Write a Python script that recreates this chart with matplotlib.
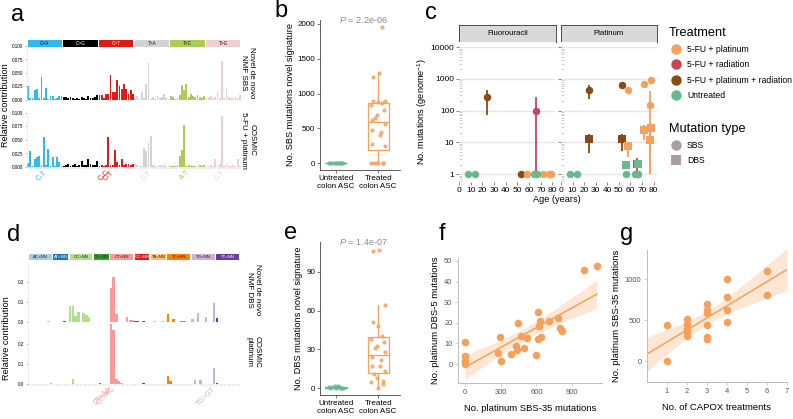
import numpy as np
import matplotlib
matplotlib.use("Agg")
import matplotlib.pyplot as plt
from matplotlib.lines import Line2D
from matplotlib.patches import Rectangle

plt.rcParams['font.family'] = ['Liberation Sans', 'DejaVu Sans']
plt.rcParams['mathtext.fontset'] = 'custom'
plt.rcParams['mathtext.rm'] = 'Liberation Sans'
plt.rcParams['mathtext.it'] = 'Liberation Sans:italic'
plt.rcParams['axes.linewidth'] = 0.6

# ---------------- data ----------------
# panel a: SBS 96-channel profiles (one list per mutation class)
sbs_types = ['C>A', 'C>G', 'C>T', 'T>A', 'T>C', 'T>G']
sbs_colors = ['#2EBAED', '#000000', '#DE1C14', '#D4D2D2', '#ADCC54', '#F0D0CE']
sbs_text_colors = ['#111111', 'white', 'white', '#111111', '#111111', '#111111']
novel_sbs = [
    [0.025, 0.004, 0.003, 0.019, 0.020, 0.003, 0.042, 0.004, 0.022, 0.002, 0.008, 0.008, 0.002, 0.003, 0.008, 0.007],
    [0.006, 0.005, 0.004, 0.006, 0.003, 0.002, 0.003, 0.002, 0.005, 0.003, 0.002, 0.007, 0.004, 0.003, 0.006, 0.010],
    [0.010, 0.010, 0.003, 0.012, 0.012, 0.046, 0.015, 0.015, 0.037, 0.026, 0.020, 0.030, 0.020, 0.012, 0.018, 0.012],
    [0.004, 0.008, 0.002, 0.015, 0.004, 0.030, 0.068, 0.002, 0.006, 0.002, 0.008, 0.004, 0.006, 0.012, 0.003, 0.002],
    [0.008, 0.006, 0.002, 0.004, 0.010, 0.028, 0.018, 0.030, 0.005, 0.012, 0.008, 0.006, 0.010, 0.005, 0.004, 0.008],
    [0.004, 0.006, 0.008, 0.002, 0.005, 0.015, 0.003, 0.072, 0.003, 0.020, 0.005, 0.004, 0.003, 0.006, 0.004, 0.010],
]
cosmic_sbs = [
    [0.008, 0.030, 0.002, 0.014, 0.018, 0.020, 0.003, 0.055, 0.003, 0.033, 0.002, 0.018, 0.002, 0.018, 0.010, 0.002],
    [0.002, 0.003, 0.005, 0.002, 0.004, 0.006, 0.002, 0.003, 0.012, 0.004, 0.004, 0.015, 0.006, 0.004, 0.003, 0.012],
    [0.002, 0.004, 0.001, 0.003, 0.055, 0.004, 0.004, 0.032, 0.010, 0.004, 0.015, 0.003, 0.005, 0.006, 0.004, 0.005],
    [0.005, 0.004, 0.002, 0.002, 0.035, 0.030, 0.044, 0.058, 0.003, 0.002, 0.002, 0.003, 0.002, 0.003, 0.002, 0.004],
    [0.001, 0.002, 0.002, 0.003, 0.020, 0.032, 0.078, 0.002, 0.003, 0.001, 0.002, 0.002, 0.001, 0.003, 0.002, 0.004],
    [0.002, 0.002, 0.003, 0.002, 0.015, 0.003, 0.005, 0.095, 0.002, 0.005, 0.002, 0.002, 0.003, 0.002, 0.015, 0.002],
]
sbs_mark_labels = ['C-T', 'C-C', 'C-T', 'C-T', 'A-T', 'C-T']
sbs_mark_bars = [8, 36, 38, 55, 72, 88]
sbs_mark_group = [0, 2, 2, 3, 4, 5]

# panel d: DBS 78-channel profiles
dbs_types = ['AC>NN', 'AT>NN', 'CC>NN', 'CG>NN', 'CT>NN', 'GC>NN', 'TA>NN', 'TC>NN', 'TG>NN', 'TT>NN']
dbs_colors = ['#A6CEE3', '#1F78B4', '#B2DF8A', '#33A02C', '#FB9A99', '#E31A1C', '#FDBF6F', '#FF7F00', '#CAB2D6', '#6A3D9A']
dbs_text_colors = ['#222222', 'white', '#222222', '#222222', '#222222', 'white', '#222222', '#222222', '#222222', 'white']
novel_dbs = [
    [0, 0, 0, 0, 0, 0, 0, 0.003, 0],
    [0, 0, 0, 0, 0.003, 0],
    [0.08, 0.078, 0.03, 0.05, 0, 0.045, 0.035, 0.025, 0],
    [0, 0, 0.002, 0, 0, 0],
    [0.17, 0.225, 0.04, 0, 0, 0.002, 0.025, 0.008, 0.008],
    [0.006, 0.003, 0.002, 0.004, 0, 0],
    [0, 0.003, 0, 0, 0.003, 0],
    [0.04, 0, 0.015, 0, 0, 0.003, 0.003, 0.002, 0],
    [0.015, 0, 0.045, 0, 0, 0.025, 0, 0, 0.095],
    [0.02, 0, 0, 0, 0, 0, 0, 0, 0],
]
cosmic_dbs = [
    [0, 0, 0, 0, 0, 0, 0, 0, 0.006],
    [0, 0, 0, 0, 0, 0],
    [0, 0.025, 0, 0, 0, 0, 0, 0.002, 0],
    [0, 0, 0.006, 0, 0, 0],
    [0.35, 0.27, 0.025, 0.015, 0.006, 0.002, 0.001, 0.001, 0.001],
    [0, 0, 0, 0.004, 0, 0],
    [0, 0, 0, 0, 0, 0],
    [0.04, 0.015, 0, 0, 0, 0, 0, 0, 0],
    [0, 0.018, 0, 0.018, 0, 0, 0, 0, 0.08],
    [0.004, 0, 0, 0, 0, 0, 0, 0, 0],
]
dbs_mark_labels = ['CT>AA', 'CT>AC', 'TG>GT']
dbs_mark_bars = [30, 31, 68]
dbs_mark_group = [4, 4, 8]

# panels b / e: mutations attributed to the novel signatures
untreated_sbs = [0, 0, 0, 0, 0, 0, 0, 0, 0, 0]
treated_sbs = [0, 0, 0, 0, 0, 0, 250, 275, 400, 450, 480, 560, 650, 700, 760, 830,
               860, 880, 890, 900, 1240, 1300, 1960, 620]
untreated_dbs = [0, 0, 1, 0, 2, 1, 0, 0, 2, 1]
treated_dbs = [0, 3, 5, 6, 8, 11, 13, 17, 17, 22, 24, 28, 31, 33, 36, 38, 40, 48, 51, 64, 106, 107]

# panel c: mutations per genome vs age
c_facet = ['Fluorouracil'] * 11 + ['Platinum'] * 21
c_type = ['SBS'] * 11 + ['SBS'] * 12 + ['DBS'] * 9
c_treat = ['FPR', 'FPR', 'FR', 'FP', 'FP', 'FP', 'FP', 'U', 'U', 'U', 'U',
           'FPR', 'FPR', 'FP', 'FP', 'FP', 'FP', 'FR', 'U', 'U', 'U', 'U', 'U',
           'FPR', 'FPR', 'FP', 'FP', 'FP', 'FP', 'FR', 'U', 'U']
c_age = [24, 53, 66, 58, 72, 77, 79, 8, 14, 64, 67,
         24, 53, 58, 72, 77, 78, 66, 8, 14, 56, 64, 67,
         24, 53, 58, 72, 77, 78, 66, 56, 67]
c_value = [270, 1, 95, 1, 1, 1, 1, 1, 1, 1, 1,
           437, 617, 437, 680, 151, 930, 1, 1, 1, 1, 1, 1,
           12.7, 12.9, 7.8, 25, 11.6, 28, 2.1, 1.9, 2.1]
c_low = [70, np.nan, 1, np.nan, np.nan, np.nan, np.nan, np.nan, np.nan, np.nan, np.nan,
         240, np.nan, np.nan, np.nan, 1, np.nan, np.nan, np.nan, np.nan, np.nan, np.nan, np.nan,
         4.5, 5.2, 3.4, 12, 1, np.nan, 1, np.nan, np.nan]
c_high = [450, np.nan, 260, np.nan, np.nan, np.nan, np.nan, np.nan, np.nan, np.nan, np.nan,
          660, np.nan, np.nan, np.nan, 420, np.nan, np.nan, np.nan, np.nan, np.nan, np.nan, np.nan,
          18, 18, 10, 36, 40, np.nan, 3.2, np.nan, np.nan]
treat_names = {'FP': '5-FU + platinum', 'FR': '5-FU + radiation',
               'FPR': '5-FU + platinum + radiation', 'U': 'Untreated'}
treat_colors = {'FP': '#F5A15B', 'FR': '#C9435B', 'FPR': '#8A4A14', 'U': '#67B88C'}

# panel f: SBS-35 vs DBS-5
f_sbs35 = [0, 0, 0, 0, 274, 294, 300, 384, 429, 434, 443, 468, 496, 518, 594, 616, 616,
           625, 630, 636, 709, 784, 798, 812, 1000, 1106]
f_dbs5 = [10.6, 3.7, 1.3, 0, 5.3, 13.3, 1.3, 5, 8.5, 6.6, 20.1, 13.7, 8, 12.5, 4.5, 25.4, 12,
          18.6, 21, 13.3, 21, 22.2, 17.4, 16.1, 45.5, 47.6]

# panel g: CAPOX treatments vs SBS-35
g_capox = [1, 1, 2, 2, 2, 2, 2, 3, 3, 3, 3, 3, 3, 4, 4, 4, 4, 6, 6]
g_sbs35 = [447, 0, 520, 459, 398, 358, 305, 703, 622, 589, 439, 297, 276, 1000, 785, 622, 472, 1102, 805]

ORANGE = '#F5A15B'
GREEN = '#67B88C'

# ---------------- figure ----------------
W, H = 793, 419
fig = plt.figure(figsize=(W / 100, H / 100), dpi=100)


def px_axes(l, t, r, b):
    return fig.add_axes([l / W, 1 - b / H, (r - l) / W, (b - t) / H])


def fx(x):
    return x / W


def fy(y):
    return 1 - y / H


def panel_label(x, y, s):
    fig.text(fx(x), fy(y), s, fontsize=17, ha='center', va='center')


def strip(ax, names, groups, colors, text_colors, fs):
    start = 0
    for name, vals, col, tc in zip(names, groups, colors, text_colors):
        n = len(vals)
        ax.add_patch(Rectangle((start - 0.5 + 0.3, 0), n - 0.6, 1, color=col, lw=0))
        ax.text(start - 0.5 + n / 2, 0.5, name, ha='center', va='center', fontsize=fs, color=tc)
        start += n
    ax.set_xlim(-0.5, start - 0.5)
    ax.set_ylim(0, 1)
    ax.axis('off')


def profile(ax, groups, colors, ymax, yticks, fmt, bottom=False, width=0.8):
    start = 0
    for vals, col in zip(groups, colors):
        x = np.arange(start, start + len(vals))
        ax.bar(x, vals, width=width, color=col, linewidth=0)
        start += len(vals)
    ax.set_xlim(-0.5, start - 0.5)
    ax.set_ylim(0, ymax)
    ax.set_yticks(yticks)
    ax.set_yticklabels([fmt.format(t) for t in yticks], fontsize=3.3)
    ax.tick_params(axis='y', length=1.5, width=0.4, color='#999999', pad=1)
    for s in ['top', 'right', 'bottom']:
        ax.spines[s].set_visible(False)
    ax.spines['left'].set_color('#dddddd')
    ax.spines['left'].set_linewidth(0.4)
    if bottom:
        ax.set_xticks(np.arange(start))
        ax.set_xticklabels([])
        ax.tick_params(axis='x', length=1.2, width=0.3, color='#aaaaaa')
    else:
        ax.set_xticks([])
    ax.patch.set_alpha(0)


def box_panel(ax, groups, colors, ylim, yticks, ylabel, ptext):
    for i, (vals, col) in enumerate(zip(groups, colors)):
        pos = i + 1
        ax.boxplot([vals], positions=[pos], widths=0.5, whis=1.5, showfliers=False,
                   patch_artist=True,
                   boxprops=dict(facecolor='white', edgecolor=col, linewidth=0.9),
                   medianprops=dict(color=col, linewidth=0.9),
                   whiskerprops=dict(color=col, linewidth=0.9),
                   capprops=dict(linewidth=0))
        n = len(vals)
        jit = 0.16 * np.sin(np.arange(n) * 2.4)
        ax.scatter(pos + jit, vals, s=9, color=col, alpha=0.85, linewidths=0, zorder=3)
    ax.set_xlim(0.62, 2.52)
    ax.set_ylim(*ylim)
    ax.set_yticks(yticks)
    ax.set_xticks([1, 2])
    ax.set_xticklabels(['Untreated\ncolon ASC', 'Treated\ncolon ASC'], fontsize=5.8)
    ax.tick_params(labelsize=5.8, length=2, width=0.5, color='#444444', pad=1.5)
    for s in ['top', 'right']:
        ax.spines[s].set_visible(False)
    for s in ['left', 'bottom']:
        ax.spines[s].set_color('#444444')
    ax.set_ylabel(ylabel, fontsize=6.6, labelpad=2)
    ax.text(1.65, ylim[1], ptext, color='#8c8c8c', fontsize=6.6, ha='center', va='center')


def lm_band(x, y, xs, t):
    x = np.asarray(x, float)
    y = np.asarray(y, float)
    b, a = np.polyfit(x, y, 1)
    fit = a + b * xs
    s = np.sqrt(np.sum((y - (a + b * x)) ** 2) / (len(x) - 2))
    se = s * np.sqrt(1 / len(x) + (xs - x.mean()) ** 2 / np.sum((x - x.mean()) ** 2))
    return fit, fit - t * se, fit + t * se


def light_axes(ax):
    for s in ['top', 'right']:
        ax.spines[s].set_visible(False)
    for s in ['left', 'bottom']:
        ax.spines[s].set_color('#bdbdbd')
        ax.spines[s].set_linewidth(0.7)
    ax.tick_params(labelsize=5.4, labelcolor='#555555', color='#bdbdbd', length=2, width=0.5, pad=2)


# ---- panel a
panel_label(18, 15, 'a')
strip(px_axes(27, 40, 241, 47), sbs_types, novel_sbs, sbs_colors, sbs_text_colors, 3.3)
ax_a1 = px_axes(27, 46, 241, 100)
profile(ax_a1, novel_sbs, sbs_colors, 0.1, [0, 0.025, 0.05, 0.075, 0.1], '{:.3f}')
ax_a2 = px_axes(27, 113, 241, 167)
profile(ax_a2, cosmic_sbs, sbs_colors, 0.1, [0, 0.025, 0.05, 0.075, 0.1], '{:.3f}', bottom=True)
for lab, idx, g in zip(sbs_mark_labels, sbs_mark_bars, sbs_mark_group):
    ax_a2.text(idx, -0.008, lab, rotation=45, rotation_mode='anchor', ha='right', va='center',
               fontsize=5, color=sbs_colors[g], clip_on=False)
fig.text(fx(6), fy(105), 'Relative contribution', rotation=90, ha='center', va='center', fontsize=6.6)
fig.text(fx(248), fy(73), 'Novel de novo\nNMF SBS', rotation=-90, ha='center', va='center', fontsize=5.8)
fig.text(fx(248), fy(140), 'COSMIC\n5-FU + platinum', rotation=-90, ha='center', va='center', fontsize=5.8)

# ---- panel d
panel_label(14, 235, 'd')
strip(px_axes(28, 254, 240, 260), dbs_types, novel_dbs, dbs_colors, dbs_text_colors, 3.1)
ax_d1 = px_axes(28, 262, 240, 322)
profile(ax_d1, novel_dbs, dbs_colors, 0.3, [0, 0.1, 0.2], '{:.1f}', width=0.95)
ax_d2 = px_axes(28, 324, 240, 384)
profile(ax_d2, cosmic_dbs, dbs_colors, 0.3, [0, 0.1, 0.2], '{:.1f}', bottom=True, width=0.95)
for lab, idx, g in zip(dbs_mark_labels, dbs_mark_bars, dbs_mark_group):
    ax_d2.text(idx, -0.02, lab, rotation=45, rotation_mode='anchor', ha='right', va='center',
               fontsize=5, color=dbs_colors[g], clip_on=False)
fig.text(fx(7), fy(338), 'Relative contribution', rotation=90, ha='center', va='center', fontsize=6.6)
fig.text(fx(253), fy(290), 'Novel de novo\nNMF DBS', rotation=-90, ha='center', va='center', fontsize=5.8)
fig.text(fx(253), fy(352), 'COSMIC\nplatinum', rotation=-90, ha='center', va='center', fontsize=5.8)

# ---- panel b
panel_label(281, 11, 'b')
ax_b = px_axes(320, 20, 400, 170)
box_panel(ax_b, [untreated_sbs, treated_sbs], [GREEN, ORANGE], (-96, 2057),
          [0, 500, 1000, 1500, 2000], 'No. SBS mutations novel signature', r'$P$ = 2.2e-06')

# ---- panel e
panel_label(291, 233, 'e')
ax_e = px_axes(320, 242, 400, 395)
box_panel(ax_e, [untreated_dbs, treated_dbs], [GREEN, ORANGE], (-5.2, 113),
          [0, 30, 60, 90], 'No. DBS mutations novel signature', r'$P$ = 1.4e-07')

# ---- panel c
panel_label(431, 13, 'c')
facets = ['Fluorouracil', 'Platinum']
facet_px = [(459, 556), (561, 657)]
c_age_a = np.array(c_age, float)
c_val_a = np.array(c_value, float)
c_low_a = np.array(c_low, float)
c_high_a = np.array(c_high, float)
c_facet_a = np.array(c_facet)
c_type_a = np.array(c_type)
c_treat_a = np.array(c_treat)
for k, (name, (l, r)) in enumerate(zip(facets, facet_px)):
    st = px_axes(l, 25, r, 42)
    st.set_facecolor('#d9d9d9')
    st.set_xticks([])
    st.set_yticks([])
    for s in st.spines.values():
        s.set_color('#333333')
        s.set_linewidth(0.6)
    st.text(0.5, 0.5, name, ha='center', va='center', fontsize=5.6, transform=st.transAxes)

    ax = px_axes(l, 42, r, 182)
    ax.set_yscale('log')
    ax.set_ylim(10 ** -0.25, 10 ** 4.16)
    ax.set_xlim(0, 83)
    ax.set_yticks([1, 10, 100, 1000, 10000])
    ax.set_yticklabels(['1', '10', '100', '1000', '10000'] if k == 0 else [])
    ax.set_xticks(np.arange(0, 81, 10))
    ax.grid(axis='y', which='major', color='#e6e6e6', linewidth=1.0)
    ax.set_axisbelow(True)
    for s in ax.spines.values():
        s.set_visible(False)
    ax.tick_params(axis='both', which='major', labelsize=6, length=2, width=0.5, color='#555555', pad=1.5)
    ax.tick_params(axis='y', which='minor', direction='in', length=2, width=0.4, color='#aaaaaa')
    ax.yaxis.set_minor_formatter(plt.NullFormatter())
    sel = c_facet_a == name
    for t in ['FPR', 'FP', 'FR', 'U']:
        m = sel & (c_treat_a == t) & ~np.isnan(c_low_a)
        ax.vlines(c_age_a[m], c_low_a[m], c_high_a[m], color=treat_colors[t], lw=1.3, zorder=2)
    for t in ['FPR', 'FP', 'FR', 'U']:
        for mt, mk in [('SBS', 'o'), ('DBS', 's')]:
            m = sel & (c_treat_a == t) & (c_type_a == mt)
            ax.plot(c_age_a[m], c_val_a[m], ls='', marker=mk, ms=5.4, color=treat_colors[t],
                    markeredgewidth=0, zorder=3)
    if k == 0:
        ax.set_ylabel(r'No. mutations (genome$^{-1}$)', fontsize=6.6, labelpad=1)
fig.text(fx(557), fy(200), 'Age (years)', ha='center', va='center', fontsize=6.6)

treat_handles = [Line2D([], [], ls='', marker='o', ms=7.5, color=treat_colors[t], markeredgewidth=0)
                 for t in ['FP', 'FR', 'FPR', 'U']]
leg1 = fig.legend(treat_handles, [treat_names[t] for t in ['FP', 'FR', 'FPR', 'U']],
                  title='Treatment', loc='upper left', bbox_to_anchor=(fx(669), fy(27)),
                  frameon=False, fontsize=6.2, title_fontsize=9.2, handlelength=1.6,
                  handletextpad=0.5, labelspacing=0.72, borderpad=0, borderaxespad=0,
                  alignment='left')
type_handles = [Line2D([], [], ls='', marker=mk, ms=7.5, color='#a89e9e', markeredgewidth=0)
                for mk in ['o', 's']]
leg2 = fig.legend(type_handles, ['SBS', 'DBS'], title='Mutation type', loc='upper left',
                  bbox_to_anchor=(fx(669), fy(123)), frameon=False, fontsize=6.2, title_fontsize=9.2,
                  handlelength=1.6, handletextpad=0.5, labelspacing=0.72, borderpad=0,
                  borderaxespad=0, alignment='left')

# ---- panel f
panel_label(442, 234, 'f')
ax_f = px_axes(458, 258, 602, 383)
xs = np.linspace(min(f_sbs35), max(f_sbs35), 100)
fit, lo, hi = lm_band(f_sbs35, f_dbs5, xs, 2.064)
ax_f.fill_between(xs, lo, hi, color=ORANGE, alpha=0.25, linewidth=0)
ax_f.plot(xs, fit, color=ORANGE, lw=1.1)
ax_f.scatter(f_sbs35, f_dbs5, s=30, color=ORANGE, linewidths=0, zorder=3)
ax_f.set_xlim(-59, 1151)
ax_f.set_ylim(-9.2, 51.4)
ax_f.set_xticks([0, 300, 600, 900])
ax_f.set_yticks([0, 10, 20, 30, 40, 50])
light_axes(ax_f)
ax_f.set_xlabel('No. platinum SBS-35 mutations', fontsize=6.8, labelpad=6)
ax_f.set_ylabel('No. platinum DBS-5 mutations', fontsize=6.8, labelpad=3)

# ---- panel g
panel_label(627, 234, 'g')
ax_g = px_axes(647, 250, 787, 382)
xs = np.linspace(0, 7, 100)
fit, lo, hi = lm_band(g_capox, g_sbs35, xs, 2.11)
ax_g.fill_between(xs, lo, hi, color=ORANGE, alpha=0.25, linewidth=0)
ax_g.plot(xs, fit, color=ORANGE, lw=1.1)
ax_g.scatter(g_capox, g_sbs35, s=30, color=ORANGE, linewidths=0, zorder=3)
ax_g.set_xlim(0, 7)
ax_g.set_ylim(-252, 1354)
ax_g.set_xticks([1, 2, 3, 4, 5, 6, 7])
ax_g.set_yticks([0, 500, 1000])
light_axes(ax_g)
ax_g.set_xlabel('No. of CAPOX treatments', fontsize=6.8, labelpad=6)
ax_g.set_ylabel('No. platinum SBS-35 mutations', fontsize=6.8, labelpad=3)

fig.savefig('out.png', dpi=100)
